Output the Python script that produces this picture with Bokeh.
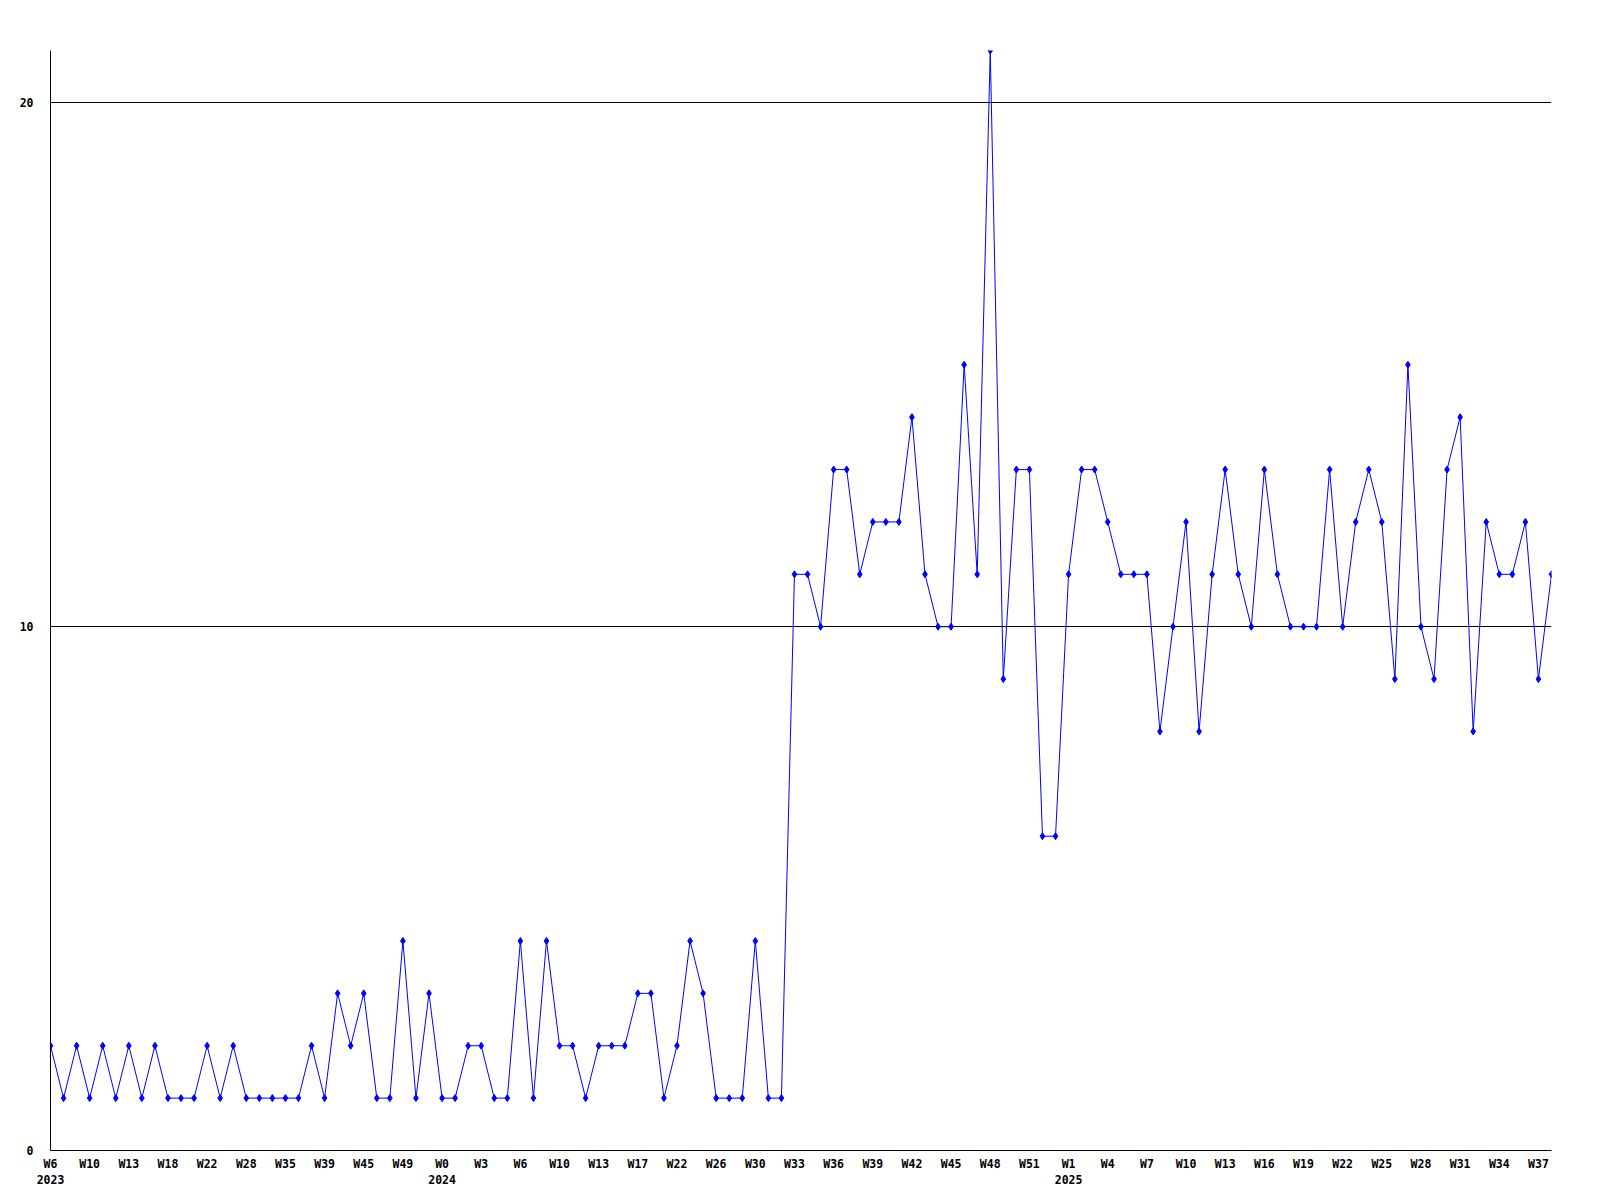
from bokeh.plotting import figure
from bokeh.models import Range1d, FixedTicker, ColumnDataSource
from bokeh.embed import file_html
from bokeh.resources import INLINE

values = [2, 1, 2, 1, 2, 1, 2, 1, 2, 1, 1, 1, 2, 1, 2, 1, 1, 1, 1, 1, 2, 1,
          3, 2, 3, 1, 1, 4, 1, 3,
          1, 1, 2, 2, 1, 1, 4, 1, 4, 2, 2, 1, 2, 2, 2, 3, 3, 1, 2, 4, 3, 1, 1, 1, 4, 1, 1,
          11, 11, 10, 13, 13, 11, 12, 12, 12, 14, 11, 10, 10, 15, 11, 21, 9, 13, 13, 6, 6,
          11, 13, 13, 12, 11, 11, 11, 8,
          10, 12, 8, 11, 13, 11, 10, 13, 11, 10, 10, 10, 13, 10, 12, 13, 12, 9, 15, 10, 9,
          13, 14, 8, 12, 11, 11, 12, 9, 11]

tick_labels = ["W6\n2023", "W10", "W13", "W18", "W22", "W28", "W35", "W39", "W45", "W49",
               "W0\n2024", "W3", "W6", "W10", "W13", "W17", "W22", "W26", "W30", "W33",
               "W36", "W39", "W42", "W45", "W48", "W51",
               "W1\n2025", "W4", "W7", "W10", "W13", "W16", "W19", "W22", "W25", "W28",
               "W31", "W34", "W37"]
label_every = 3
y_ticks = [0, 10, 20]

xs = list(range(len(values)))
src = ColumnDataSource(data=dict(x=xs, y=values))

p = figure(width=1592, height=1190, output_backend="svg", toolbar_location=None,
           x_range=Range1d(0, len(values) - 1), y_range=Range1d(0, 21),
           min_border_left=50, min_border_right=41, min_border_top=50, min_border_bottom=0)
p.outline_line_color = None
p.background_fill_color = "white"
p.border_fill_color = "white"

p.line("x", "y", source=src, line_color="#0000ff", line_width=1)
p.scatter("x", "y", source=src, marker="diamond", size=7, fill_color="#0000ff",
          line_color="#0000ff")

tick_pos = [i * label_every for i in range(len(tick_labels))]
p.xaxis.ticker = FixedTicker(ticks=tick_pos)
p.xaxis.major_label_overrides = {t: l for t, l in zip(tick_pos, tick_labels)}
p.yaxis.ticker = FixedTicker(ticks=y_ticks)

for ax in (p.xaxis, p.yaxis):
    ax.major_tick_line_color = None
    ax.minor_tick_line_color = None
    ax.axis_line_color = "black"
    ax.axis_line_width = 1
    ax.major_label_text_font = "DejaVu Sans Mono"
    ax.major_label_text_font_style = "bold"
    ax.major_label_text_font_size = "11.5px"
    ax.major_label_text_color = "black"

p.xaxis.major_label_standoff = 0
p.yaxis.major_label_standoff = 11

p.xgrid.grid_line_color = None
p.ygrid.grid_line_color = "black"
p.ygrid.grid_line_width = 1

open("out.html", "w").write(file_html(p, INLINE))
